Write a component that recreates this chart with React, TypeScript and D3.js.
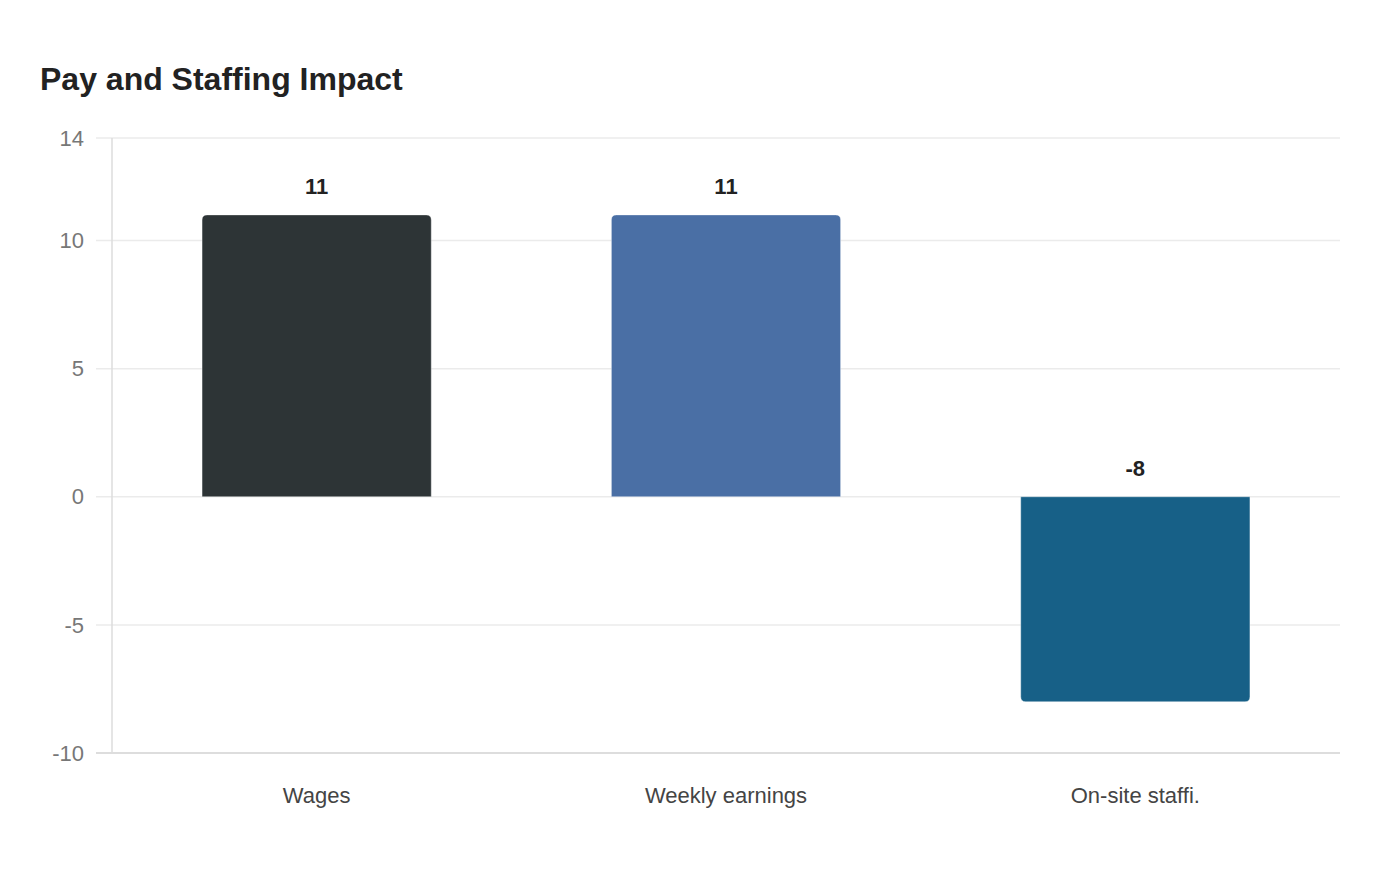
// @ts-nocheck
import React from 'react'
import * as d3 from 'd3'

const categories = ['Wages', 'Weekly earnings', 'On-site staffi.']
const values = [11, 11, -8]
const barColors = ['#2d3436', '#4a6fa5', '#176087']
const yTicks = [-10, -5, 0, 5, 10, 14]

const width = 1400
const height = 880
const margin = { top: 138, right: 60, bottom: 127, left: 112 }

const roundedBar = (x, y0, w, y1, r) => {
  // rounds only the end away from zero
  const dir = y1 < y0 ? 1 : -1
  const p = d3.path()
  p.moveTo(x, y0)
  p.lineTo(x, y1 + dir * r)
  p.quadraticCurveTo(x, y1, x + r, y1)
  p.lineTo(x + w - r, y1)
  p.quadraticCurveTo(x + w, y1, x + w, y1 + dir * r)
  p.lineTo(x + w, y0)
  p.closePath()
  return p.toString()
}

const App = () => {
  const x = d3
    .scaleBand()
    .domain(categories)
    .range([margin.left, width - margin.right])
    .paddingInner(0.44)
    .paddingOuter(0.22)

  const y = d3
    .scaleLinear()
    .domain([-10, 14])
    .range([height - margin.bottom, margin.top])

  const font = '"Liberation Sans", Arial, sans-serif'

  return (
    <svg width={width} height={height} style={{ position: 'absolute', left: 0, top: 0, background: '#fff' }}>
      <text x={40} y={90} fontFamily={font} fontSize={32} fontWeight="bold" fill="#222">
        Pay and Staffing Impact
      </text>

      {yTicks.map((t) => (
        <g key={t}>
          <line
            x1={96}
            x2={width - margin.right}
            y1={y(t)}
            y2={y(t)}
            stroke={t === -10 ? '#dddddd' : '#ebebeb'}
            strokeWidth={t === -10 ? 2 : 1.5}
          />
          <text
            x={84}
            y={y(t)}
            dy="0.35em"
            textAnchor="end"
            fontFamily={font}
            fontSize={22}
            fill="#777"
          >
            {t}
          </text>
        </g>
      ))}

      <line x1={margin.left} x2={margin.left} y1={margin.top} y2={y(-10)} stroke="#dddddd" strokeWidth={1.5} />

      {values.map((v, i) => {
        const bx = x(categories[i])
        const y0 = y(0)
        const y1 = y(v)
        return (
          <g key={categories[i]}>
            <path d={roundedBar(bx, y0, x.bandwidth(), y1, 5)} fill={barColors[i]} stroke="#fff" strokeOpacity={0.4} strokeWidth={1} />
            <text
              x={bx + x.bandwidth() / 2}
              y={(v >= 0 ? y1 : y0) - 21}
              textAnchor="middle"
              fontFamily={font}
              fontSize={22}
              fontWeight="bold"
              fill="#222"
            >
              {v}
            </text>
          </g>
        )
      })}

      {categories.map((c) => (
        <text
          key={c}
          x={x(c) + x.bandwidth() / 2}
          y={803}
          textAnchor="middle"
          fontFamily={font}
          fontSize={22}
          fill="#444"
        >
          {c}
        </text>
      ))}
    </svg>
  )
}

export default App
